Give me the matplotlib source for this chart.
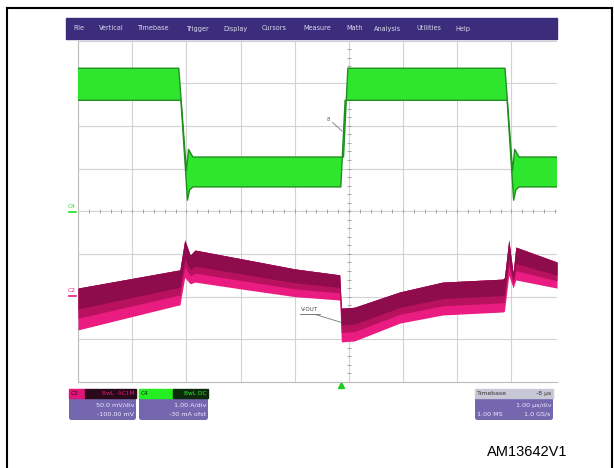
import numpy as np
import matplotlib
matplotlib.use("Agg")
import matplotlib.pyplot as plt
from matplotlib.patches import Rectangle, FancyBboxPatch

# ---- data (time in divisions, 1 us/div; level in divisions) ----
menu_items = ["File", "Vertical", "Timebase", "Trigger", "Display", "Cursors",
              "Measure", "Math", "Analysis", "Utilities", "Help"]
menu_x = [73, 99, 137, 186, 223, 262, 303, 346, 374, 416, 455]

# C4 (green) band: upper and lower envelope
c4_top_t = [0, 1.86, 2.00, 2.04, 2.12, 4.90, 4.98, 7.88, 8.02, 8.06, 8.14, 8.84]
c4_top_y = [7.35, 7.35, 4.95, 5.45, 5.27, 5.27, 7.35, 7.35, 4.95, 5.45, 5.27, 5.27]
c4_bot_t = [0, 1.90, 2.02, 2.06, 2.12, 4.85, 4.93, 7.92, 8.04, 8.08, 8.14, 8.84]
c4_bot_y = [6.60, 6.60, 4.26, 4.50, 4.57, 4.57, 6.60, 6.60, 4.26, 4.50, 4.57, 4.57]

# C2 (V-OUT, magenta) band
c2_t = [0, 1.85, 1.88, 1.97, 2.07, 2.16, 3.17, 4.00, 4.83, 4.86, 5.10,
        5.94, 6.73, 7.84, 7.87, 7.95, 8.03, 8.08, 8.84]
c2_top = [2.20, 2.62, 2.62, 3.33, 2.97, 3.09, 2.85, 2.65, 2.51, 1.73, 1.75,
          2.11, 2.34, 2.41, 2.45, 3.33, 2.55, 3.16, 2.81]
c2_bot = [1.22, 1.80, 1.80, 2.45, 2.30, 2.34, 2.15, 2.00, 1.92, 0.94, 0.96,
          1.38, 1.57, 1.64, 1.66, 2.50, 2.20, 2.39, 2.20]

c2_lines = ["50.0 mV/div", "-100.00 mV"]
c4_lines = ["1.00 A/div", "-30 mA ofst"]
tb_lines = ["1.00 \u00b5s/div", "1.00 MS", "1.0 GS/s"]

# ---- figure ----
fig = plt.figure(figsize=(6.14, 4.68), dpi=100)
ov = fig.add_axes([0, 0, 1, 1])
ov.set_xlim(0, 614)
ov.set_ylim(468, 0)
ov.axis("off")

# outer frame
ov.plot([6.5, 6.5], [7.5, 468], color="black", lw=1.5)
ov.plot([6.5, 611.5], [7.5, 7.5], color="black", lw=1.5)
ov.plot([611.5, 611.5], [7.5, 468], color="black", lw=1.5)

# menu bar
ov.add_patch(Rectangle((66, 18), 491, 21, color="#3b2d7c"))
for name, x in zip(menu_items, menu_x):
    ov.text(x, 28.5, name, color="#dcd8ee", fontsize=4.7, va="center", ha="left")

# channel labels left of the grid
ov.text(68, 207, "C4", color="#22dd22", fontsize=4.3, va="center")
ov.plot([69, 76], [212, 212], color="#22dd22", lw=1.2)
ov.text(68, 290, "C2", color="#e8197e", fontsize=4.3, va="center")
ov.plot([69, 76], [296, 296], color="#e8197e", lw=1.2)

# trigger marker
ov.plot(341, 385, marker="^", color="#22cc22", markersize=4)

# ---- scope screen ----
ax = fig.add_axes([78 / 614, 1 - 382 / 468, (557 - 78) / 614, (382 - 40.5) / 468])
ax.set_xlim(0, 8.84)
ax.set_ylim(0, 8)
ax.set_xticks(range(0, 9))
ax.set_yticks(range(0, 9))
ax.grid(True, color="#d2d2d2", lw=0.8)
ax.tick_params(length=0, labelbottom=False, labelleft=False)
for s in ["top", "right"]:
    ax.spines[s].set_visible(False)
for s in ["left", "bottom"]:
    ax.spines[s].set_color("#bdbdbd")
    ax.spines[s].set_linewidth(0.8)

# centre lines with minor ticks
ax.plot(np.arange(0, 8.84, 0.2), np.full(len(np.arange(0, 8.84, 0.2)), 4.0),
        ls="none", marker="|", markersize=2.5, color="#9a9a9a", mew=0.6)
ax.plot(np.full(40, 5.0), np.arange(0, 8, 0.2),
        ls="none", marker="_", markersize=2.5, color="#9a9a9a", mew=0.6)

# C4 trace
ax.fill(np.concatenate([c4_top_t, c4_bot_t[::-1]]),
        np.concatenate([c4_top_y, c4_bot_y[::-1]]),
        color="#2ee62e", lw=0, zorder=3)
ax.plot(c4_top_t, c4_top_y, color="#1f8f1f", lw=1.0, zorder=4)
ax.plot(c4_bot_t, c4_bot_y, color="#1f8f1f", lw=1.0, zorder=4)

# C2 trace
t = np.array(c2_t)
top = np.array(c2_top)
bot = np.array(c2_bot)
ax.fill_between(t, bot, top, color="#ea1c82", lw=0, zorder=3)
ax.fill_between(t, top - 0.72 * (top - bot), top, color="#b8125f", lw=0, zorder=3)
ax.fill_between(t, top - 0.5 * (top - bot), top, color="#8e0b4c", lw=0, zorder=3)

# annotations
ax.text(4.62, 6.16, "8", fontsize=3.8, color="#555555", ha="center", va="center", zorder=5)
ax.plot([4.70, 4.87], [6.08, 5.88], color="#777777", lw=0.6, zorder=5)
ax.text(4.28, 1.70, "V-OUT", fontsize=4.0, color="#444444", ha="center", va="center",
        zorder=5)
ax.plot([4.10, 4.46], [1.60, 1.60], color="#444444", lw=0.5, zorder=5)
ax.plot([4.38, 4.85], [1.58, 1.40], color="#777777", lw=0.6, zorder=5)

# ---- bottom info boxes ----
def box(x0, x1):
    ov.add_patch(FancyBboxPatch((x0, 389), x1 - x0, 31,
                                boxstyle="round,pad=0,rounding_size=2.5",
                                color="#7467b0", lw=0))

box(69, 136)
ov.add_patch(Rectangle((69, 389), 16, 9, color="#e0157a"))
ov.add_patch(Rectangle((85, 389), 51, 9, color="#2a0a1a"))
ov.text(71, 393.5, "C2", fontsize=4.2, color="#2a0a1a", va="center")
ov.text(134, 393.5, "BwL  AC1M", fontsize=4.2, color="#e0157a", va="center", ha="right")
ov.text(134, 405, c2_lines[0], fontsize=4.6, color="#eeeaff", va="center", ha="right")
ov.text(134, 414, c2_lines[1], fontsize=4.6, color="#eeeaff", va="center", ha="right")

box(139, 208)
ov.add_patch(Rectangle((139, 389), 34, 9, color="#22ee22"))
ov.add_patch(Rectangle((173, 389), 35, 9, color="#0d2a0d"))
ov.text(141, 393.5, "C4", fontsize=4.2, color="#0d2a0d", va="center")
ov.text(206, 393.5, "BwL DC", fontsize=4.2, color="#22ee22", va="center", ha="right")
ov.text(206, 405, c4_lines[0], fontsize=4.6, color="#eeeaff", va="center", ha="right")
ov.text(206, 414, c4_lines[1], fontsize=4.6, color="#eeeaff", va="center", ha="right")

box(475, 553)
ov.add_patch(Rectangle((475, 389), 78, 9, color="#c8c7d6"))
ov.text(477, 393.5, "Timebase", fontsize=4.4, color="#333333", va="center")
ov.text(551, 393.5, "-8 \u00b5s", fontsize=4.4, color="#333333", va="center", ha="right")
ov.text(551, 405, tb_lines[0], fontsize=4.6, color="#eeeaff", va="center", ha="right")
ov.text(477, 414, tb_lines[1], fontsize=4.6, color="#eeeaff", va="center", ha="left")
ov.text(551, 414, tb_lines[2], fontsize=4.6, color="#eeeaff", va="center", ha="right")

# document reference
ov.text(527, 452, "AM13642V1", fontsize=10.5, family=["Liberation Sans", "DejaVu Sans"],
        ha="center", va="center", color="black")

fig.savefig("out.png", dpi=100)
